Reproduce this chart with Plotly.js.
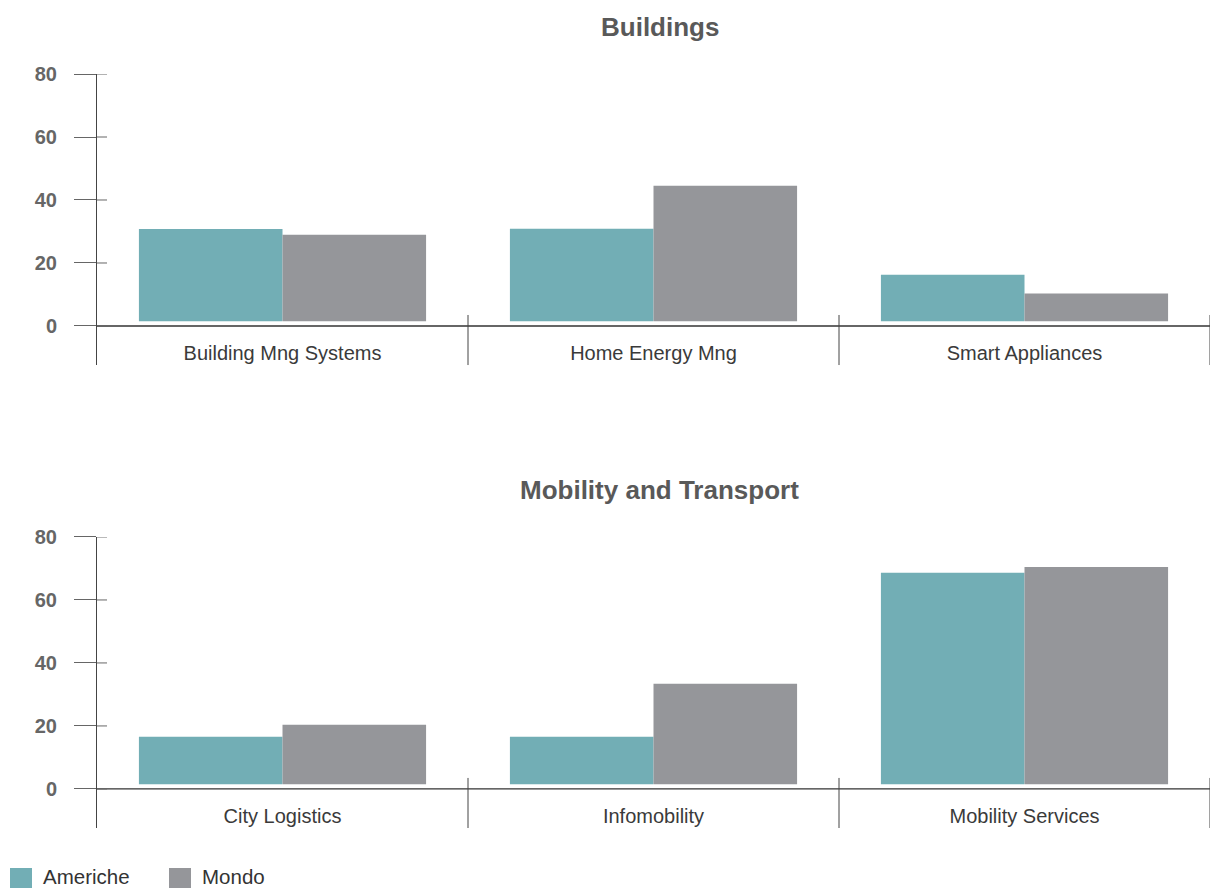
<!DOCTYPE html>
<html>
<head>
<meta charset="utf-8">
<script src="https://cdn.plot.ly/plotly-3.0.1.min.js"></script>
<style>html,body{margin:0;padding:0;background:#fff;}#chart{width:1219px;height:888px;}</style>
</head>
<body>
<div id="chart"></div>
<script>
// ---- data ----
const buildingsCategories = ["Building Mng Systems", "Home Energy Mng", "Smart Appliances"];
const buildingsAmeriche = [30.8, 30.9, 16.3];
const buildingsMondo = [29.0, 44.5, 10.3];

const mobilityCategories = ["City Logistics", "Infomobility", "Mobility Services"];
const mobilityAmeriche = [16.6, 16.6, 68.6];
const mobilityMondo = [20.4, 33.4, 70.5];

const seriesNames = ["Americhe", "Mondo"];
const panelTitles = ["Buildings", "Mobility and Transport"];
const yTickVals = [0, 20, 40, 60, 80];
const yTickText = ["0", "20", "40", "60", "80"];

// ---- styles ----
const colAmeriche = "#72aeb5";
const colMondo = "#95969a";
const fontFamily = "Liberation Sans, Arial, sans-serif";

const traces = [
  {type: "bar", name: seriesNames[0], x: buildingsCategories, y: buildingsAmeriche, xaxis: "x", yaxis: "y", marker: {color: colAmeriche}, showlegend: false, hoverinfo: "x+y"},
  {type: "bar", name: seriesNames[1], x: buildingsCategories, y: buildingsMondo, xaxis: "x", yaxis: "y", marker: {color: colMondo}, showlegend: false, hoverinfo: "x+y"},
  {type: "bar", name: seriesNames[0], x: mobilityCategories, y: mobilityAmeriche, xaxis: "x2", yaxis: "y2", marker: {color: colAmeriche}, showlegend: false, hoverinfo: "x+y"},
  {type: "bar", name: seriesNames[1], x: mobilityCategories, y: mobilityMondo, xaxis: "x2", yaxis: "y2", marker: {color: colMondo}, showlegend: false, hoverinfo: "x+y"}
];

function yAxis(domain) {
  return {
    domain: domain, range: [-12.4, 80], tickvals: yTickVals, ticktext: yTickText,
    showline: true, linecolor: "#444", linewidth: 1, zeroline: false, showgrid: false,
    ticks: "outside", ticklen: 22, tickcolor: "#666", tickwidth: 1, ticklabelstandoff: 13,
    tickfont: {family: fontFamily, size: 20, color: "#666", weight: "bold"}, fixedrange: true
  };
}
function xAxis(pos) {
  return {
    type: "category", range: [-0.5, 2.5], anchor: "free", position: pos,
    showline: false, showgrid: false, zeroline: false, ticks: "",
    tickfont: {family: fontFamily, size: 20, color: "#3a3a3a"}, fixedrange: true
  };
}

const shapes = [];
const annotations = [];
[["x", "y"], ["x2", "y2"]].forEach(([xa, ya]) => {
  // gap between bars and baseline
  shapes.push({type: "rect", layer: "above", xref: xa + " domain", yref: ya, x0: 0.002, x1: 1, y0: 0, y1: 1.5, fillcolor: "#fff", line: {width: 0}});
  // baseline
  shapes.push({type: "line", layer: "above", xref: xa + " domain", yref: ya, x0: 0, x1: 1, y0: 0, y1: 0, line: {color: "#333", width: 1.3}});
  // category separators
  [0.5, 1.5, 2.5].forEach(v => shapes.push({type: "line", layer: "above", xref: xa, yref: ya + " domain", x0: v, x1: v, y0: 0, y1: 0.172, line: {color: "#444", width: 1}}));
  // inner part of crossing ticks
  yTickVals.forEach(v => shapes.push({type: "line", layer: "above", xref: xa + " domain", yref: ya, x0: 0, x1: 0.009, y0: v, y1: v, line: {color: "#666", width: 1}}));
});

annotations.push({text: panelTitles[0], xref: "paper", yref: "paper", x: 0.5055, y: 1.0623, xanchor: "center", yanchor: "middle", showarrow: false, font: {family: fontFamily, size: 26, color: "#595959", weight: "bold"}});
annotations.push({text: panelTitles[1], xref: "paper", yref: "paper", x: 0.5055, y: 0.4483, xanchor: "center", yanchor: "middle", showarrow: false, font: {family: fontFamily, size: 26, color: "#595959", weight: "bold"}});

// legend
const legendItems = [[seriesNames[0], colAmeriche, 10], [seriesNames[1], colMondo, 169]];
legendItems.forEach(([name, col, px]) => {
  const toX = p => (p - 97) / 1113;
  const toY = p => (828 - p) / 754;
  shapes.push({type: "rect", xref: "paper", yref: "paper", x0: toX(px), x1: toX(px + 22), y0: toY(868), y1: toY(892), fillcolor: col, line: {width: 0}});
  annotations.push({text: name, xref: "paper", yref: "paper", x: toX(px + 31), y: toY(876.5), xanchor: "left", yanchor: "middle", showarrow: false, font: {family: fontFamily, size: 20.5, color: "#333"}});
});

const layout = {
  width: 1219, height: 888,
  margin: {l: 97, r: 9, t: 74, b: 60},
  paper_bgcolor: "#fff", plot_bgcolor: "#fff",
  barmode: "group", bargap: 0.226, bargroupgap: 0,
  showlegend: false,
  xaxis: xAxis(0.648),
  yaxis: yAxis([0.614, 1]),
  xaxis2: xAxis(0.034),
  yaxis2: yAxis([0, 0.386]),
  shapes: shapes,
  annotations: annotations
};

Plotly.newPlot("chart", traces, layout, {displayModeBar: false, staticPlot: true});
</script>
</body>
</html>
